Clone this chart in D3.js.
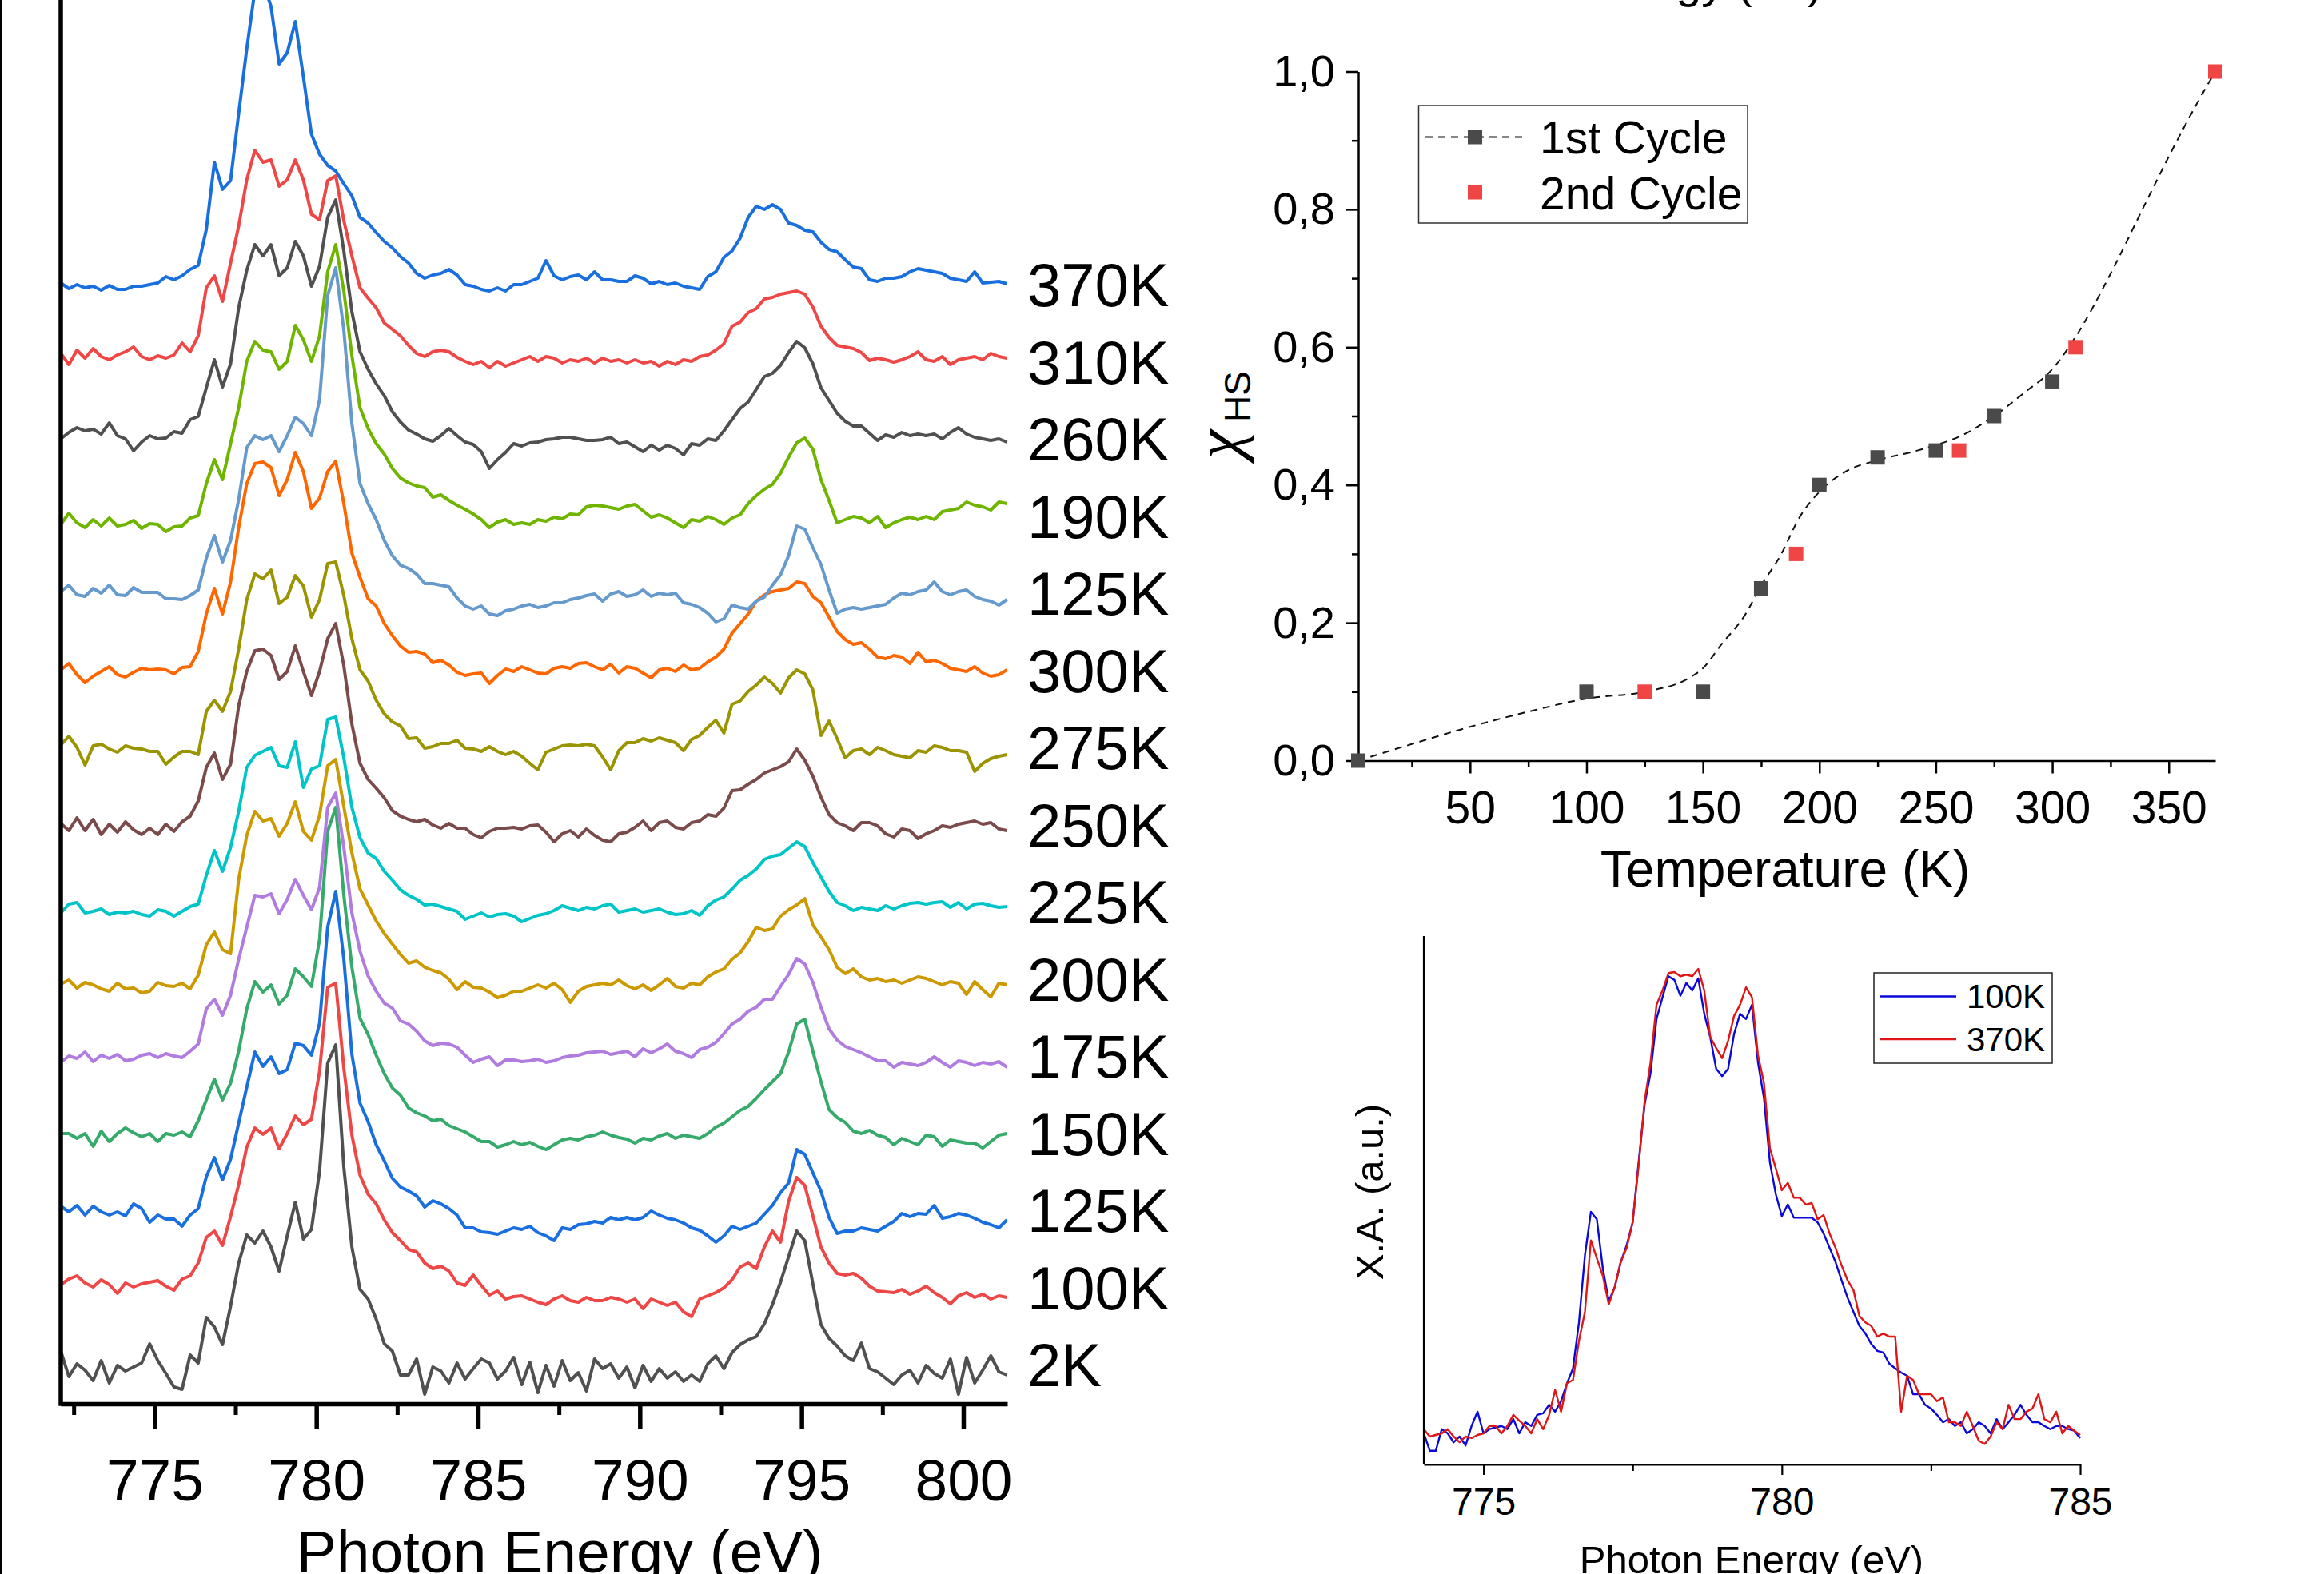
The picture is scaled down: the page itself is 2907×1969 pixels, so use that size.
<!DOCTYPE html>
<html>
<head>
<meta charset="utf-8">
<script src="https://cdn.jsdelivr.net/npm/d3@7/dist/d3.min.js"></script>
<style>
html, body { margin: 0; padding: 0; background: #fff; }
svg { display: block; }
</style>
</head>
<body>
<svg id="fig" width="2907" height="1969"></svg>
<script>
// photon energy grid of the stacked spectra (eV)
const energy = [
  772.1,772.35,772.6,772.85,773.1,773.35,773.6,773.85,
  774.1,774.35,774.6,774.85,775.1,775.35,775.6,775.85,
  776.1,776.35,776.6,776.85,777.1,777.35,777.6,777.85,
  778.1,778.35,778.6,778.85,779.1,779.35,779.6,779.85,
  780.1,780.35,780.6,780.85,781.1,781.35,781.6,781.85,
  782.1,782.35,782.6,782.85,783.1,783.35,783.6,783.85,
  784.1,784.35,784.6,784.85,785.1,785.35,785.6,785.85,
  786.1,786.35,786.6,786.85,787.1,787.35,787.6,787.85,
  788.1,788.35,788.6,788.85,789.1,789.35,789.6,789.85,
  790.1,790.35,790.6,790.85,791.1,791.35,791.6,791.85,
  792.1,792.35,792.6,792.85,793.1,793.35,793.6,793.85,
  794.1,794.35,794.6,794.85,795.1,795.35,795.6,795.85,
  796.1,796.35,796.6,796.85,797.1,797.35,797.6,797.85,
  798.1,798.35,798.6,798.85,799.1,799.35,799.6,799.85,
  800.1,800.35,800.6,800.85,801.1,801.35
];

// stacked spectra, top to bottom (a.u., relative to each curve's own offset)
const spectrumLabels = ['370K','310K','260K','190K','125K','300K','275K','250K','225K','200K','175K','150K','125K','100K','2K'];
const spectrumColors = ['#1a6fdf','#ef4646','#505050','#6fb500','#6699cc','#ff6600','#9a9400','#7b4a4a','#00c5c8','#cc9900','#b07ce0','#35aa6b','#1a6fdf','#ef4646','#505050'];
const offsets = [1398,1312,1211,1104,1016,914,819,723,617,524,433,336,240,151,44];

const spec370K = [4,-3,2,-2,0,-5,1,-4, -4,0,0,2,4,12,8,13, 21,26,71,155,121,132,216,297,
  370,380,350,278,292,331,262,190, 165,151,144,128,113,86,79,67, 56,48,37,29,16,10,14,16,
  21,14,2,0,-4,-6,-2,-6, 2,2,6,10,32,13,8,12, 14,8,18,8,8,6,6,13, 10,3,6,2,4,0,-2,-4,
  12,18,36,44,60,86,100,96, 102,96,79,76,70,68,55,46, 43,33,24,22,8,6,10,10,
  12,18,22,20,18,16,10,8, 6,18,4,5,6,3];
const spec310K = [2,-12,6,-4,8,-2,-6,0, 4,10,-2,-6,-1,-4,0,15, 4,24,84,99,67,115,161,219,
  256,241,244,211,219,244,219,176, 169,218,224,168,124,84,71,59, 40,32,24,12,2,-2,4,6,
  4,-3,-8,-12,-8,-16,-8,-14, -10,-6,-2,-8,-2,-4,-10,-6, -8,-4,-10,-4,-8,-6,-10,-6,
  -10,-8,-14,-8,-12,-6,-8,-2, 0,6,14,36,41,53,58,70, 72,76,78,80,76,60,36,22,
  12,10,8,3,-7,-4,-6,-9, -6,-2,4,-6,-8,-2,-12,-6, -4,-2,-6,2,-2,-4];
const spec260K = [-4,4,10,6,8,2,16,0, -4,-19,-8,0,-4,-3,5,3, 20,24,60,95,61,90,160,207,
  239,225,239,200,210,243,225,187, 212,273,295,231,155,105,83,65, 50,30,17,7,2,-4,-7,0,
  9,0,-8,-11,-20,-41,-30,-21, -10,-13,-9,-8,-5,-4,-2,-2, -4,-6,-6,-5,-2,-10,-8,-14,
  -20,-12,-18,-12,-16,-24,-10,-12, -4,-6,6,20,34,42,58,74, 78,88,104,118,110,90,60,44,
  28,18,12,12,3,-6,1,-2, 4,0,2,0,2,-4,4,10, 2,-2,-4,-6,-4,-8];
const spec190K = [-4,10,-2,-8,2,-6,4,-6, -4,1,-9,-3,-4,-13,-7,-6, 4,7,47,77,52,97,142,200,
  225,214,212,190,200,245,227,200, 232,312,346,288,207,142,116,97, 84,66,54,48,44,42,30,33,
  26,20,15,9,2,-8,-1,2, -4,-2,-4,2,0,5,3,9, 8,18,20,19,17,15,19,21, 13,5,8,4,-2,-8,2,0,
  6,2,-4,4,8,22,32,40, 46,60,80,98,104,90,52,26, -2,2,6,4,-2,6,-8,-2,
  2,5,2,6,2,12,14,16, 24,20,18,14,24,22];
const spec125Ka = [0,8,-4,-6,4,-2,8,-4, -5,5,-1,-1,-1,-9,-9,-10, -5,2,42,70,37,64,115,180,
  195,190,195,175,195,218,210,195, 240,370,405,327,210,135,110,90, 64,45,33,29,22,10,10,8,
  6,-8,-18,-22,-18,-28,-30,-24, -22,-18,-16,-20,-18,-14,-14,-10, -8,-5,-3,-12,-3,0,-6,-4,
  2,-6,-2,-4,-2,-14,-16,-20, -27,-38,-34,-17,-20,-22,-12,-7, 8,21,45,82,78,55,34,2,
  -27,-22,-20,-22,-20,-18,-16,-8, -2,-4,0,2,12,0,-4,0, 2,-6,-10,-12,-17,-10];
const spec300K = [4,12,-2,-12,-4,2,8,-2, -5,1,6,4,5,4,-1,7, 8,27,74,106,74,114,182,237,
  262,264,257,222,242,276,252,206, 219,252,265,212,150,120,93,84, 62,47,34,26,27,24,13,16,
  10,1,-3,-1,0,-13,-3,5, 2,8,4,0,-1,6,8,6, 12,13,8,4,11,0,8,6, 0,-6,4,6,2,10,4,6,
  14,20,30,50,62,74,90,98, 102,104,106,114,112,96,88,70, 52,42,36,38,30,20,18,22,
  20,12,26,14,16,12,6,4, 2,8,0,-4,-2,4];
const spec275K = [5,16,2,-20,4,6,0,-4, 4,1,0,-3,-3,-19,-10,-3, -3,-7,47,61,47,72,125,187,
  219,213,224,182,190,217,204,165, 187,232,234,192,138,99,85,61, 44,34,29,13,14,1,3,7,
  7,11,1,0,-3,3,-3,-7, -3,-9,-18,-26,-4,0,4,5, 4,6,4,-10,-26,-2,8,8, 13,10,14,11,8,-2,12,17,
  27,36,20,56,60,72,80,90, 82,70,89,99,94,74,17,35, 13,-11,-2,0,-7,2,-2,-7,
  -9,-11,-2,-4,4,2,-2,-2, -4,-28,-18,-12,-9,-7];
const spec250K = [3,-6,10,-6,8,-11,2,-8, 5,-5,-11,-3,-11,2,-7,5, 12,31,73,91,58,77,150,193,
  219,221,213,183,193,225,193,163, 193,234,253,200,127,78,58,47, 35,19,12,8,5,8,1,-3,
  3,-3,-3,-11,-15,-7,-3,-3, -2,-4,0,1,-8,-20,-10,-6, -14,-4,-12,-18,-20,-10,-8,-2, 6,-6,4,6,-2,-4,4,6,
  14,12,22,44,45,52,58,66, 70,74,80,96,82,62,36,14, 4,0,-6,4,4,0,-10,-14,
  -4,-6,-16,-10,-6,0,-2,2, 4,6,2,4,-4,-6];
const spec225K = [-3,8,10,-3,-1,2,-5,-2, -3,-1,-5,-7,1,-1,-7,-1, 5,8,44,75,49,79,124,179,
  194,199,204,181,179,211,154,177, 181,239,242,191,129,91,72,65, 49,38,26,19,14,7,8,5,
  2,-1,-11,-7,-3,-8,-5,-4, -7,-14,-10,-6,-4,0,6,3, 0,4,2,6,8,-2,0,2, -2,0,2,-2,-5,-4,0,-6,
  6,13,17,27,38,44,52,64, 68,70,78,86,80,60,42,24, 10,6,0,4,2,0,6,2,
  6,9,10,8,10,11,4,10, 2,8,9,6,4,5];
const spec200K = [1,6,-4,3,0,-5,-8,2, -5,-4,-10,-8,3,-1,-2,2, -5,12,50,66,44,39,132,187,
  217,205,208,186,202,229,192,181, 212,274,282,223,165,120,100,80, 64,51,38,27,30,22,18,15,
  7,-6,4,-3,-4,-9,-16,-13, -8,-8,-4,0,-4,2,-6,-22, -8,-2,0,2,0,6,-1,-5, 0,-7,0,8,-2,-4,2,0,
  10,16,20,32,40,54,72,68, 70,86,94,100,108,75,60,44, 22,14,20,10,6,8,4,6,
  2,6,10,8,4,0,4,2, -12,4,-6,-15,2,0];
const spec175K = [-6,2,-1,7,-5,3,-1,4, -4,-2,3,5,0,5,2,0, 8,17,61,73,53,78,123,163,
  203,201,205,180,198,223,203,185, 213,313,331,263,181,133,102,83, 68,62,46,42,33,21,15,18,
  17,13,3,-6,-2,1,-10,-3, -3,-5,-4,-2,-6,-4,0,2, 3,6,7,8,4,6,8,1, 11,6,11,17,8,5,0,10,
  13,19,30,42,48,58,63,73, 73,89,104,124,117,94,63,36, 22,14,10,6,1,-4,-4,-12,
  -6,-8,-10,-6,1,-6,-12,-4, -6,-10,-6,-8,-5,-12];
const spec150K = [2,2,-4,2,-14,5,-8,2, 9,3,-2,2,-8,2,0,4, -2,18,44,70,44,65,105,158,
  192,179,188,164,175,208,198,186, 245,380,410,300,210,146,126,100, 77,59,50,34,28,24,18,20,
  12,8,4,-2,-8,-8,-15,-12, -8,-12,-9,-14,-18,-12,-6,-4, -6,-2,0,4,0,-3,-5,-10, -4,-6,-1,2,-4,0,-2,-4,
  2,10,15,23,31,36,46,57, 67,77,104,139,145,105,67,32, 22,16,5,2,6,0,-3,-12,
  -4,-8,-12,0,-2,-14,-6,-8, -10,-10,-16,-8,0,2];
const spec125Kb = [7,0,8,-4,7,0,-4,0, -5,10,4,-13,-4,-9,-9,-18, -4,4,44,68,40,66,111,156,
  200,182,194,173,178,211,208,196, 236,356,401,316,197,136,113,84, 64,42,31,26,20,6,14,10,
  4,-4,-20,-20,-25,-26,-28,-24, -20,-22,-18,-26,-30,-36,-20,-22, -16,-15,-12,-14,-7,-10,-7,-10, -7,1,-4,-8,-10,-14,-20,-23,
  -30,-38,-30,-18,-22,-18,-14,-3, 8,24,36,78,72,49,26,-7, -27,-24,-24,-20,-22,-24,-18,-12,
  -2,-6,-2,-3,8,-8,-6,-2, -4,-8,-13,-16,-20,-10];
const spec100K = [-2,5,9,0,-5,4,-2,-13, 0,-5,-1,1,3,-4,-9,5, 9,25,57,65,47,83,123,170,
  194,186,194,168,187,209,198,205, 265,370,375,269,185,135,111,99, 79,63,53,42,39,25,18,21,
  15,0,-3,10,-3,-15,-10,-20, -17,-16,-20,-24,-27,-20,-16,-22, -24,-18,-22,-22,-18,-20,-24,-20, -32,-20,-24,-28,-24,-36,-42,-20,
  -16,-12,-6,4,20,25,18,45, 65,51,102,132,122,84,45,25, 12,10,12,6,-4,-10,-11,-12,
  -8,-14,-10,-4,-12,-18,-26,-16, -12,-18,-14,-20,-16,-18];
const spec2K = [22,-10,6,-2,-15,10,-18,4, -3,2,7,31,10,-6,-23,-26, 17,7,64,52,30,78,132,167,
  157,172,152,122,166,208,162,174, 247,382,405,252,152,99,87,62, 31,22,-8,-8,12,-32,2,-3,
  -18,7,-13,0,12,7,-13,-3, 14,-20,8,-30,4,-22,10,-15, -5,-28,12,0,6,-12,2,-24, 4,-16,0,-12,-4,-16,-8,-16,
  6,16,0,20,30,36,40,56, 80,108,140,172,160,106,55,38, 28,16,10,32,0,-4,-12,-20,
  -8,-2,-18,4,-6,-12,12,-32, 14,-18,-2,16,-4,-8];

const spectra = [spec370K, spec310K, spec260K, spec190K, spec125Ka, spec300K, spec275K,
  spec250K, spec225K, spec200K, spec175K, spec150K, spec125Kb, spec100K, spec2K];

const energyTicks = [775, 780, 785, 790, 795, 800];
const energyMinorTicks = [772.5, 777.5, 782.5, 787.5, 792.5, 797.5];

// high-spin fraction vs temperature
const cycle1T = [2, 100, 150, 175, 200, 225, 250, 275, 300];
const cycle1X = [0, 0.1, 0.1, 0.25, 0.4, 0.44, 0.45, 0.5, 0.55];
const cycle2T = [125, 190, 260, 310, 370];
const cycle2X = [0.1, 0.3, 0.45, 0.6, 1.0];
const guideT = [2,25,50,75,100,125,143,150,158,168,175,183,192,200,211,225,241,250,260,275,288,300,310,326,339,351,363,370];
const guideX = [0,0.024,0.049,0.071,0.090,0.100,0.118,0.134,0.169,0.211,0.254,0.296,0.356,0.390,0.419,0.436,0.449,0.458,0.470,0.500,0.534,0.568,0.615,0.713,0.802,0.883,0.959,1.0];
const tempTicks = [50, 100, 150, 200, 250, 300, 350];
const tempMinorTicks = [25, 75, 125, 175, 225, 275, 325];
const fracTicks = [0, 0.2, 0.4, 0.6, 0.8, 1.0];
const fracMinorTicks = [0.1, 0.3, 0.5, 0.7, 0.9];

// inset: L3 edge, 100K vs 370K
const insetEnergy = [
  774.0,774.1,774.2,774.3,774.4,774.5,774.6,774.7,774.8,774.9,
  775.0,775.1,775.2,775.3,775.4,775.5,775.6,775.7,775.8,775.9,
  776.0,776.1,776.2,776.3,776.4,776.5,776.6,776.7,776.8,776.9,
  777.0,777.1,777.2,777.3,777.4,777.5,777.6,777.7,777.8,777.9,
  778.0,778.1,778.2,778.3,778.4,778.5,778.6,778.7,778.8,778.9,
  779.0,779.1,779.2,779.3,779.4,779.5,779.6,779.7,779.8,779.9,
  780.0,780.1,780.2,780.3,780.4,780.5,780.6,780.7,780.8,780.9,
  781.0,781.1,781.2,781.3,781.4,781.5,781.6,781.7,781.8,781.9,
  782.0,782.1,782.2,782.3,782.4,782.5,782.6,782.7,782.8,782.9,
  783.0,783.1,783.2,783.3,783.4,783.5,783.6,783.7,783.8,783.9,
  784.0,784.1,784.2,784.3,784.4,784.5,784.6,784.7,784.8,784.9,
  785.0
];
const inset100K = [
  59,26,26,67,59,42,53,36,73,100, 59,67,70,73,67,86,59,80,73,94,
  97,113,100,120,154,182,269,396,478,464, 371,309,336,383,415,458,572,681,741,843,
  884,924,917,887,911,897,920,853,809,749, 735,749,815,853,843,870,761,694,572,511,
  470,492,467,467,467,467,458,437,410,383, 349,316,289,262,248,228,215,212,191,182,
  174,168,133,133,113,106,94,80,86,73, 80,59,67,80,73,59,86,67,80,94,
  113,94,80,80,73,67,73,73,67,64, 50];
const inset370K = [
  67,53,56,59,67,53,42,53,50,56, 59,73,73,59,73,94,83,73,59,86,
  67,94,141,100,154,160,234,289,424,390, 357,303,336,383,410,458,566,687,761,870,
  897,930,932,924,927,924,938,897,809,788, 769,802,849,870,903,884,775,722,599,560,
  519,533,505,505,492,495,464,472,437,410, 377,349,330,281,269,262,242,248,242,242,
  100,168,160,133,133,133,120,127,80,80, 73,100,73,45,39,53,80,67,113,86,
  86,100,106,133,86,80,100,59,73,64, 56];
const insetTicks = [775, 780, 785];
const insetMinorTicks = [777.5, 782.5];

const FONT = '"Liberation Sans", Arial, Helvetica, sans-serif';
const svg = d3.select('#fig').attr('font-family', FONT);

function styleAxis(g, size, width) {
	g.attr('font-family', FONT).attr('font-size', size);
	g.select('.domain').attr('stroke', '#000').attr('stroke-width', width);
	g.selectAll('.tick line').attr('stroke', '#000').attr('stroke-width', width);
	g.selectAll('.tick text').attr('fill', '#000');
}

// thin frame edge on the far left
svg.append('line').attr('x1', 1.5).attr('x2', 1.5).attr('y1', 0).attr('y2', 1969)
	.attr('stroke', '#000').attr('stroke-width', 3);

// ---------- left panel ----------
const x = d3.scaleLinear().domain([772.1, 801.36]).range([76, 1260]);
const y = d3.scaleLinear().domain([0, 1756]).range([1756, 0]);

const spectraGroup = svg.append('g');
d3.range(spectra.length).reverse().forEach(i => {
	const line = d3.line()
		.x((d, j) => x(energy[j]))
		.y(d => y(d + offsets[i]));
	spectraGroup.append('path').datum(spectra[i])
		.attr('d', line)
		.attr('fill', 'none')
		.attr('stroke', spectrumColors[i])
		.attr('stroke-width', 4)
		.attr('stroke-linejoin', 'round');
});

const labelY = d3.scalePoint().domain(d3.range(spectrumLabels.length)).range([383, 1734]);
svg.append('g').selectAll('text').data(spectrumLabels).enter()
	.append('text')
		.attr('x', 1285)
		.attr('y', (d, i) => labelY(i))
		.attr('font-size', 76)
		.attr('fill', '#000')
		.text(d => d);

const gxMinor = svg.append('g').attr('transform', `translate(0,${y(0)})`)
	.call(d3.axisBottom(x).tickValues(energyMinorTicks).tickSize(14).tickSizeOuter(0).tickFormat(''));
gxMinor.select('.domain').remove();
styleAxis(gxMinor, 10, 5);

const gx = svg.append('g').attr('transform', `translate(0,${y(0)})`)
	.call(d3.axisBottom(x).tickValues(energyTicks).tickSize(32).tickSizeOuter(0).tickFormat(d3.format('d')));
styleAxis(gx, 73, 5.5);
gx.selectAll('.tick text').attr('y', 121).attr('dy', null);

svg.append('line')
	.attr('x1', 76).attr('x2', 76).attr('y1', 0).attr('y2', y(0) + 2.75)
	.attr('stroke', '#000').attr('stroke-width', 5.5);

svg.append('text').attr('x', 700).attr('y', 1967).attr('text-anchor', 'middle')
	.attr('font-size', 75).text('Photon Energy (eV)');

// ---------- top right: high-spin fraction ----------
const tx = d3.scaleLinear().domain([2, 370]).range([1699, 2771]);
const ty = d3.scaleLinear().domain([0, 1]).range([951.5, 89.5]);

// x-axis title of a panel above, cut by the figure edge
svg.append('text').attr('x', 2030).attr('y', -3).attr('text-anchor', 'middle')
	.attr('font-size', 57).text('Photon Energy (eV)');

const txMinor = svg.append('g').attr('transform', `translate(0,${ty(0)})`)
	.call(d3.axisBottom(tx).tickValues(tempMinorTicks).tickSize(8).tickSizeOuter(0).tickFormat(''));
txMinor.select('.domain').remove();
styleAxis(txMinor, 10, 2.5);
const txAxis = svg.append('g').attr('transform', `translate(0,${ty(0)})`)
	.call(d3.axisBottom(tx).tickValues(tempTicks).tickSize(16).tickSizeOuter(0));
styleAxis(txAxis, 57, 2.5);
txAxis.selectAll('.tick text').attr('y', 78.5).attr('dy', null);

const tyMinor = svg.append('g').attr('transform', `translate(${tx(2)},0)`)
	.call(d3.axisLeft(ty).tickValues(fracMinorTicks).tickSize(8).tickSizeOuter(0).tickFormat(''));
tyMinor.select('.domain').remove();
styleAxis(tyMinor, 10, 2.5);
const tyAxis = svg.append('g').attr('transform', `translate(${tx(2)},0)`)
	.call(d3.axisLeft(ty).tickValues(fracTicks).tickSize(15).tickSizeOuter(0).tickPadding(14)
		.tickFormat(d => d3.format('.1f')(d).replace('.', ',')));
styleAxis(tyAxis, 56, 2.5);

svg.append('text').attr('x', 2233).attr('y', 1109).attr('text-anchor', 'middle')
	.attr('font-size', 64).text('Temperature (K)');
svg.append('text').attr('transform', 'translate(1551,574) rotate(-90)')
	.attr('font-family', '"Liberation Serif", "DejaVu Serif", serif').attr('font-style', 'italic')
	.attr('font-size', 82).text('χ');
svg.append('text').attr('transform', 'translate(1564,528) rotate(-90)')
	.attr('font-size', 46).text('HS');

const guide = d3.line().x((d, i) => tx(guideT[i])).y(d => ty(d)).curve(d3.curveMonotoneX);
svg.append('path').datum(guideX).attr('d', guide)
	.attr('fill', 'none').attr('stroke', '#111').attr('stroke-width', 2)
	.attr('stroke-dasharray', '9,7');

const sq = 18;
svg.append('g').selectAll('rect').data(cycle1X).enter().append('rect')
	.attr('x', (d, i) => tx(cycle1T[i]) - sq / 2).attr('y', d => ty(d) - sq / 2)
	.attr('width', sq).attr('height', sq).attr('fill', '#4a4a4a');
svg.append('g').selectAll('rect').data(cycle2X).enter().append('rect')
	.attr('x', (d, i) => tx(cycle2T[i]) - sq / 2).attr('y', d => ty(d) - sq / 2)
	.attr('width', sq).attr('height', sq).attr('fill', '#f04545');

const legend = svg.append('g');
legend.append('rect').attr('x', 1774.5).attr('y', 132).attr('width', 411.5).attr('height', 147)
	.attr('fill', '#fff').attr('stroke', '#333').attr('stroke-width', 1.5);
legend.append('line').attr('x1', 1783).attr('x2', 1911).attr('y1', 171.5).attr('y2', 171.5)
	.attr('stroke', '#111').attr('stroke-width', 2).attr('stroke-dasharray', '9,7');
legend.append('rect').attr('x', 1845 - sq / 2).attr('y', 171.5 - sq / 2)
	.attr('width', sq).attr('height', sq).attr('fill', '#4a4a4a');
legend.append('rect').attr('x', 1845 - sq / 2).attr('y', 240.5 - sq / 2)
	.attr('width', sq).attr('height', sq).attr('fill', '#f04545');
legend.append('text').attr('x', 1926).attr('y', 192).attr('font-size', 57).text('1st Cycle');
legend.append('text').attr('x', 1926).attr('y', 262).attr('font-size', 57).text('2nd Cycle');

// ---------- bottom right inset ----------
const ix = d3.scaleLinear().domain([774, 785]).range([1781, 2602]);
const iy = d3.scaleLinear().domain([0, 1000]).range([1832, 1171]);

const insetSeries = [
	{ name: '100K', values: inset100K, color: '#0a0ad8' },
	{ name: '370K', values: inset370K, color: '#e01515' }
];
insetSeries.forEach(s => {
	const line = d3.line().x((d, i) => ix(insetEnergy[i])).y(d => iy(d));
	svg.append('path').datum(s.values).attr('d', line)
		.attr('fill', 'none').attr('stroke', s.color).attr('stroke-width', 2.4)
		.attr('stroke-linejoin', 'round');
});

const ixMinor = svg.append('g').attr('transform', `translate(0,${iy(0)})`)
	.call(d3.axisBottom(ix).tickValues(insetMinorTicks).tickSize(8).tickSizeOuter(0).tickFormat(''));
ixMinor.select('.domain').remove();
styleAxis(ixMinor, 10, 2.2);
const ixAxis = svg.append('g').attr('transform', `translate(0,${iy(0)})`)
	.call(d3.axisBottom(ix).tickValues(insetTicks).tickSize(13).tickSizeOuter(0).tickFormat(d3.format('d')));
styleAxis(ixAxis, 48, 2.2);
ixAxis.selectAll('.tick text').attr('y', 63).attr('dy', null);
svg.append('line').attr('x1', ix(774)).attr('x2', ix(774)).attr('y1', 1171).attr('y2', iy(0))
	.attr('stroke', '#000').attr('stroke-width', 2.2);

svg.append('text').attr('x', 2191).attr('y', 1968).attr('text-anchor', 'middle')
	.attr('font-size', 49).text('Photon Energy (eV)');
svg.append('text').attr('transform', 'translate(1730,1491) rotate(-90)').attr('text-anchor', 'middle')
	.attr('font-size', 49).text('X.A. (a.u.)');

const ilegend = svg.append('g');
ilegend.append('rect').attr('x', 2344).attr('y', 1217).attr('width', 223).attr('height', 113)
	.attr('fill', '#fff').attr('stroke', '#222').attr('stroke-width', 1.5);
insetSeries.forEach((s, i) => {
	const ly = 1246.5 + i * 53.5;
	ilegend.append('line').attr('x1', 2352).attr('x2', 2447).attr('y1', ly).attr('y2', ly)
		.attr('stroke', s.color).attr('stroke-width', 2.4);
	ilegend.append('text').attr('x', 2460).attr('y', ly + 14.5).attr('font-size', 42).text(s.name);
});
</script>
</body>
</html>
